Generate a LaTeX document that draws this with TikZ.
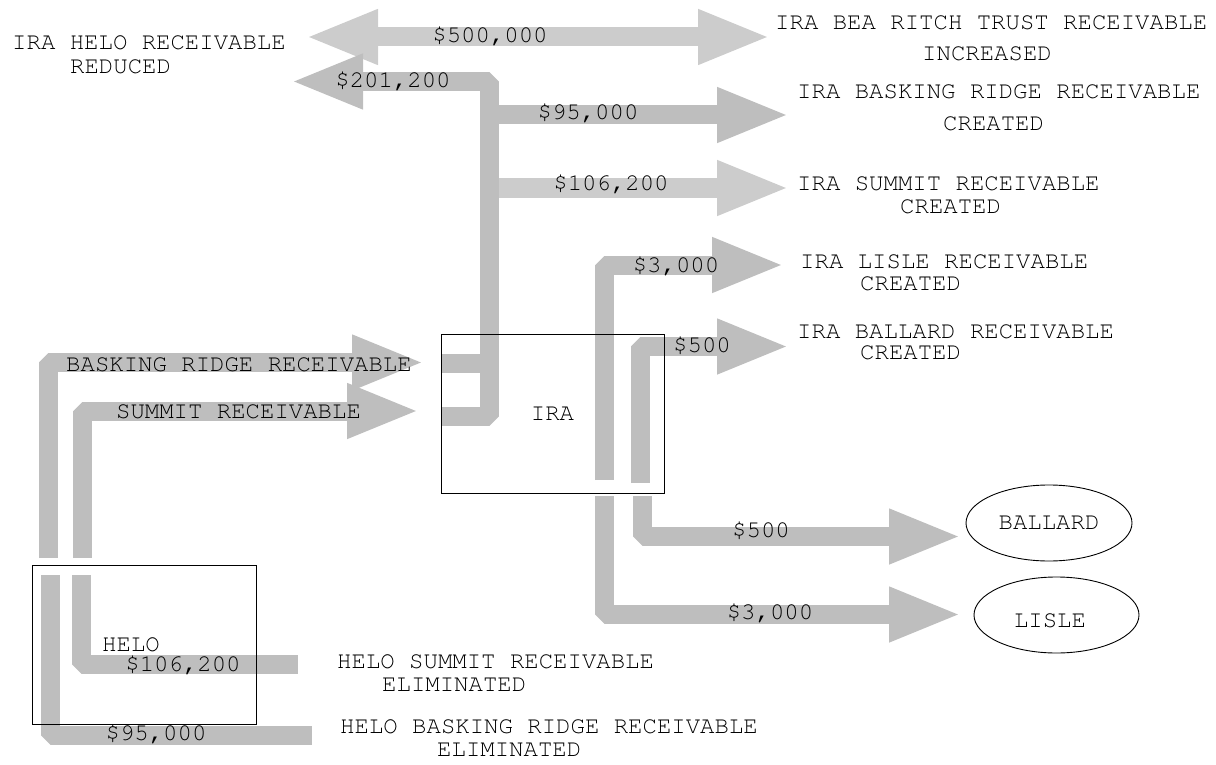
\documentclass[tikz,border=0pt]{standalone}
\usepackage[T1]{fontenc}
\renewcommand{\familydefault}{pcr}
\usetikzlibrary{arrows.meta,shapes.geometric}
\definecolor{flowd}{RGB}{190,190,190}
\definecolor{flowl}{RGB}{204,204,204}
\tikzset{
  flow/.style={draw=flowd, line width=19pt, line join=bevel},
  lflow/.style={draw=flowl, line width=19pt, line join=bevel},
  headtip/.style={-{Triangle[length=73pt 0 0,width=50pt 0 0]}},
  bothtip/.style={{Triangle[length=73pt 0 0,width=50pt 0 0]}-{Triangle[length=73pt 0 0,width=50pt 0 0]}},
  txt/.style={font=\fontsize{24}{23.3}\selectfont, inner sep=0pt, anchor=base},
  lbl/.style={font=\fontsize{24}{#1}\selectfont, inner sep=0pt, anchor=base west},
  lbl/.default=23.3,
  box/.style={draw=black, line width=0.9pt, inner sep=0pt},
}
\begin{document}
\begin{tikzpicture}[x=1pt,y=-1pt]
\useasboundingbox (0,0) rectangle (1216,765);
% coordinates
\coordinate (dL) at (305,37); \coordinate (dR) at (771,37);
\coordinate (sumIn) at (441,416.5); \coordinate (trunkB) at (489.5,416.5);
\coordinate (trunkT) at (489.5,81.5); \coordinate (t201) at (290,81.5);
\coordinate (brIn) at (441,363); \coordinate (brJ) at (489.5,363);
\coordinate (s95) at (489.5,115); \coordinate (t95) at (790,115);
\coordinate (s106) at (499,188); \coordinate (t106) at (790,188);
\coordinate (s3k) at (604.5,480); \coordinate (t3k) at (785,265);
\coordinate (s500) at (640.5,483); \coordinate (t500) at (790,346.5);
\coordinate (s500b) at (642,496); \coordinate (t500b) at (962,536.5);
\coordinate (s3kb) at (604.5,496); \coordinate (t3kb) at (962,614.5);
\coordinate (hbS) at (50.5,575); \coordinate (hbE) at (312,735.5);
\coordinate (hsS) at (81.5,575); \coordinate (hsE) at (298,664);
\coordinate (abS) at (48,558); \coordinate (abT) at (425,362.5);
\coordinate (asS) at (82,558); \coordinate (asT) at (420,411);
% flows
\draw[lflow, bothtip] (dL) -- (dR);
\draw[flow, headtip] (sumIn) -- (trunkB) -- (trunkT) -- (t201);
\draw[flow] (brIn) -- (brJ);
\draw[flow, headtip] (s95) -- (t95);
\draw[lflow, headtip] (s106) -- (t106);
\draw[flow, headtip] (s3k) |- (t3k);
\draw[flow, headtip] (s500) |- (t500);
\draw[flow, headtip] (s500b) |- (t500b);
\draw[flow, headtip] (s3kb) |- (t3kb);
\draw[flow] (hbS) |- (hbE);
\draw[flow] (hsS) |- (hsE);
\draw[flow, headtip] (abS) |- (abT);
\draw[flow, headtip] (asS) |- (asT);
% boxes
\node[box, minimum width=223pt, minimum height=159pt, font=\fontsize{24}{24}\selectfont] (ira) at (552.5,413.5) {IRA};
\node[box, minimum width=224pt, minimum height=159pt] (helo) at (144,644.5) {};
\node[txt] (helotxt) at (131,651) {HELO};
\node[box, ellipse, minimum width=166pt, minimum height=76pt, font=\fontsize{24}{24}\selectfont] (ballard) at (1049,523) {BALLARD};
\node[box, ellipse, minimum width=165pt, minimum height=76pt] (lisle) at (1056.5,615) {};
\node[txt] (lisletxt) at (1050,627) {LISLE};
% amounts
\node[txt] at (490,43) {\$500,000};
\node[txt] at (393,88) {\$201,200};
\node[txt] at (588,120) {\$95,000};
\node[txt] at (611,190) {\$106,200};
\node[txt] at (676,272) {\$3,000};
\node[txt] at (702,352) {\$500};
\node[txt] at (761,537) {\$500};
\node[txt] at (770,619) {\$3,000};
\node[txt] at (183,671) {\$106,200};
\node[txt] at (156,740) {\$95,000};
\node[txt] at (239,371) {BASKING RIDGE RECEIVABLE};
\node[txt] at (238.5,418) {SUMMIT RECEIVABLE};
% destination labels
\node[lbl] (l1) at (12,50) {\begin{tabular}[t]{@{}l@{}}IRA HELO RECEIVABLE\\\hspace*{58pt}REDUCED\end{tabular}};
\node[lbl=31.4] (l2) at (775,29.3) {\begin{tabular}[t]{@{}l@{}}IRA BEA RITCH TRUST RECEIVABLE\\\hspace*{147pt}INCREASED\end{tabular}};
\node[lbl=32.4] (l3) at (797,98.3) {\begin{tabular}[t]{@{}l@{}}IRA BASKING RIDGE RECEIVABLE\\\hspace*{146pt}CREATED\end{tabular}};
\node[lbl=24] (l4) at (797,190) {\begin{tabular}[t]{@{}l@{}}IRA SUMMIT RECEIVABLE\\\hspace*{103pt}CREATED\end{tabular}};
\node[lbl=22.4] (l5) at (800,268.3) {\begin{tabular}[t]{@{}l@{}}IRA LISLE RECEIVABLE\\\hspace*{60pt}CREATED\end{tabular}};
\node[lbl=21.5] (l6) at (797,338.3) {\begin{tabular}[t]{@{}l@{}}IRA BALLARD RECEIVABLE\\\hspace*{63pt}CREATED\end{tabular}};
\node[lbl] (l7) at (337,668.3) {\begin{tabular}[t]{@{}l@{}}HELO SUMMIT RECEIVABLE\\\hspace*{45pt}ELIMINATED\end{tabular}};
\node[lbl] (l8) at (340,733.3) {\begin{tabular}[t]{@{}l@{}}HELO BASKING RIDGE RECEIVABLE\\\hspace*{97pt}ELIMINATED\end{tabular}};
\end{tikzpicture}
\end{document}
